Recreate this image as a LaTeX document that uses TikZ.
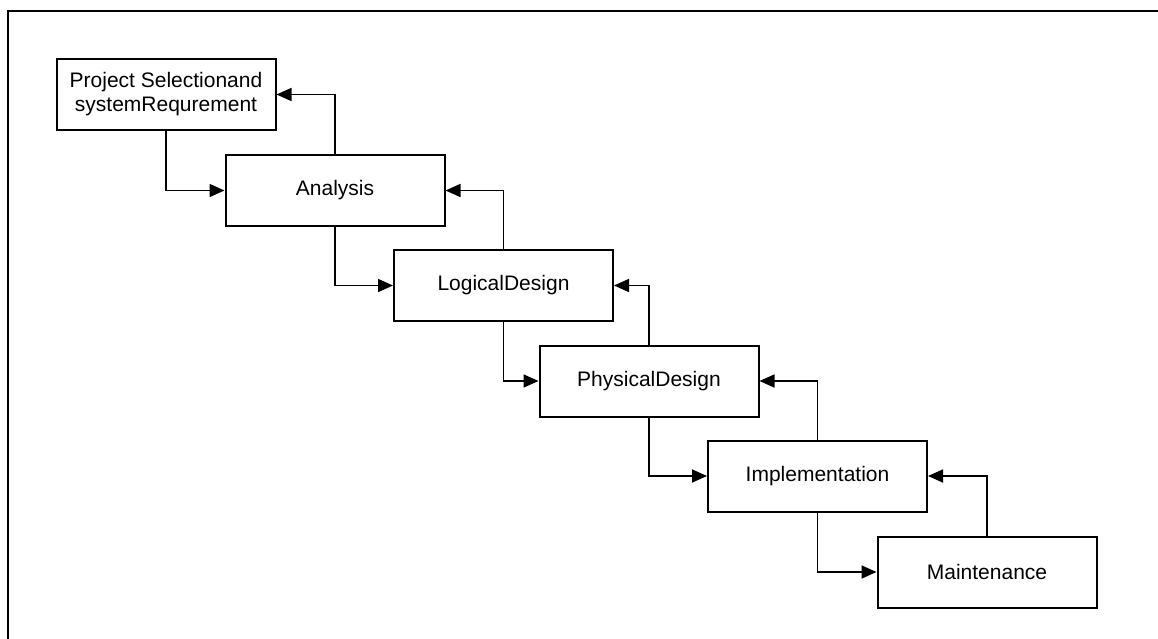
\documentclass[tikz,border=0pt]{standalone}
\usepackage{fontspec}
\setmainfont{Liberation Sans}
\usetikzlibrary{arrows.meta}
\begin{document}
\begin{tikzpicture}[x=1pt,y=-1pt,
  stage/.style={draw, line width=2pt, minimum width=219pt, minimum height=71pt,
    inner sep=0pt, align=center, font=\fontsize{21}{24}\selectfont},
  flow/.style={line width=1.7pt, -{Triangle[length=15pt,width=13pt]}},
  frameline/.style={line width=2pt}]
\useasboundingbox (0,0) rectangle (1158,639);
\clip (0,0) rectangle (1158,639);
% outer frame, running past the page on the right and bottom
\draw[frameline] (8,660) -- (8,11) -- (1180,11);

% stages
\node[stage] (sel) at (166,94.5)   {Project Selectionand\\systemRequrement};
\node[stage] (ana) at (335,190.5)  {Analysis};
\node[stage] (log) at (503.5,285.5) {LogicalDesign};
\node[stage] (phy) at (649,381)    {PhysicalDesign};
\node[stage] (imp) at (817.5,476)  {Implementation};
\node[stage] (mai) at (987,572)    {Maintenance};

% forward flow: bottom of a stage to the left side of the next
\draw[flow] (sel.south) |- (ana.west);
\draw[flow] (ana.south) |- (log.west);
\draw[flow] (log.south) |- (phy.west);
\draw[flow] (phy.south) |- (imp.west);
\draw[flow] (imp.south) |- (mai.west);

% feedback: top of a stage to the right side of the previous
\draw[flow] (ana.north) |- (sel.east);
\draw[flow] (log.north) |- (ana.east);
\draw[flow] (phy.north) |- (log.east);
\draw[flow] (imp.north) |- (phy.east);
\draw[flow] (mai.north) |- (imp.east);
\end{tikzpicture}
\end{document}
